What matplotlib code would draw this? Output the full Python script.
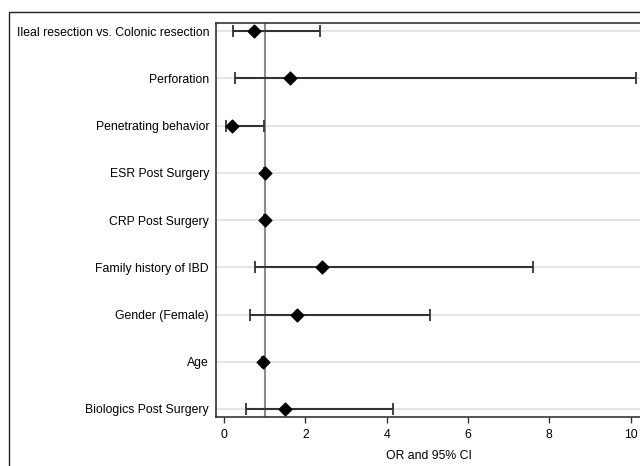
import matplotlib
matplotlib.use("Agg")
import matplotlib.pyplot as plt
import matplotlib.patches as mpatches
import numpy as np

labels = ["Ileal resection vs. Colonic resection", "Perforation", "Penetrating behavior",
          "ESR Post Surgery", "CRP Post Surgery", "Family history of IBD",
          "Gender (Female)", "Age", "Biologics Post Surgery"]
or_vals = [0.74, 1.62, 0.19, 1.00, 1.00, 2.41, 1.79, 0.95, 1.50]
ci_low = [0.22, 0.27, 0.04, 0.99, 0.99, 0.76, 0.63, 0.93, 0.53]
ci_high = [2.36, 10.13, 0.98, 1.01, 1.01, 7.60, 5.07, 0.97, 4.16]
xticks = [0, 2, 4, 6, 8, 10]

plt.rcParams['font.family'] = ['Liberation Sans', 'DejaVu Sans']

W, H = 640, 466
fig = plt.figure(figsize=(W / 100, H / 100), dpi=100)

# outer border (cropped figure frame)
fig.patches.append(mpatches.Rectangle((9 / W, -0.1), 1.2, (H - 12) / H + 0.1,
                                      transform=fig.transFigure, fill=False,
                                      edgecolor="#222222", linewidth=1.0, zorder=0))

left, right = 216, 642
top, bottom = 23, 417
ax = fig.add_axes([left / W, 1 - bottom / H, (right - left) / W, (bottom - top) / H])

y = np.arange(1, len(labels) + 1)
px_per_unit = 40.67
x0 = (left - 224) / px_per_unit
x1 = (right - 224) / px_per_unit
ax.set_xlim(x0, x1)
ax.set_ylim(9 + 8 / 47.25, 1 - 8 / 47.25)

for yy in y:
    ax.axhline(yy, color="#e0e0e0", linewidth=1.2, zorder=1)
ax.axvline(1.0, color="#8a8a8a", linewidth=1.5, zorder=2)

or_arr = np.array(or_vals)
xerr = np.vstack([or_arr - np.array(ci_low), np.array(ci_high) - or_arr])
ax.errorbar(or_arr, y, xerr=xerr, fmt="none", ecolor="#333333", elinewidth=1.5,
            capsize=4.5, capthick=1.3, zorder=3, clip_on=False)
ax.scatter(or_arr, y, marker="D", s=42, color="black", zorder=4)

fs = 8.8
ax.set_yticks(y)
ax.set_yticklabels(labels, fontsize=fs)
ax.tick_params(axis="y", length=0, pad=5)
ax.set_xticks(xticks)
ax.set_xticklabels([str(t) for t in xticks], fontsize=fs)
ax.tick_params(axis="x", length=4, width=1, color="#333333", pad=5)
ax.set_xlabel("OR and 95% CI", fontsize=fs, labelpad=6)

for s in ["left", "bottom", "top", "right"]:
    ax.spines[s].set_color("#333333")
    ax.spines[s].set_linewidth(1.2)

fig.savefig("out.png", dpi=100)
